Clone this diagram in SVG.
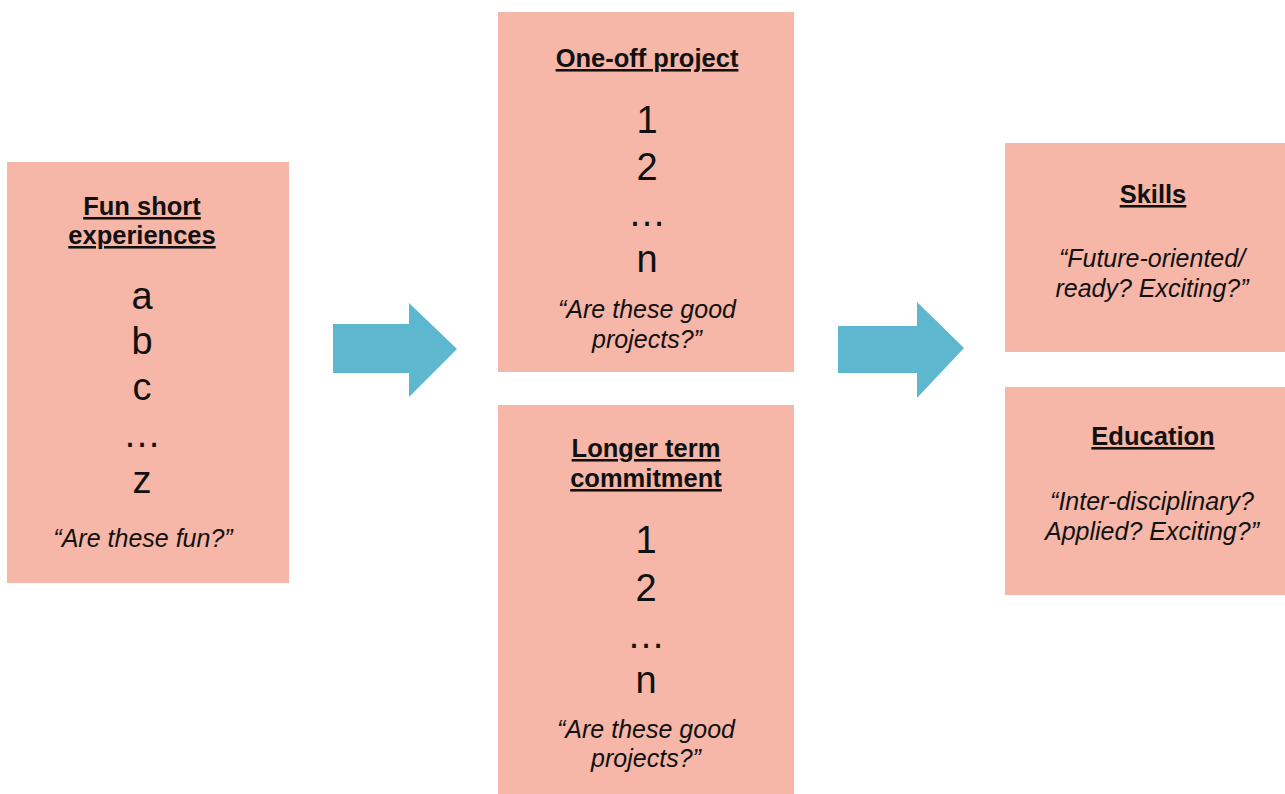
<svg xmlns="http://www.w3.org/2000/svg" width="1285" height="794" viewBox="0 0 1285 794">
<style>
.box{fill:#F6B6A8}
.arrow{fill:#5CB7CF}
text{font-family:"Liberation Sans",Arial,sans-serif;fill:#111111;text-anchor:middle}
.t{font-weight:bold;font-size:25.5px;text-decoration:underline}
.big{font-size:38px}
.q{font-style:italic;font-size:25px}
</style>
<rect width="1285" height="794" fill="#ffffff"/>
<g id="connectors">
<polygon class="arrow" points="333,324 409,324 409,303 457,349 409,397 409,373 333,373"/>
<polygon class="arrow" points="838,326 917,326 917,302 964,348 917,398 917,373 838,373"/>
</g>
<g id="fun">
<rect class="box" x="7" y="162" width="282" height="421"/>
<text class="t" x="142" y="215">Fun short</text>
<text class="t" x="142" y="244">experiences</text>
<text class="big" x="142" y="309">a</text>
<text class="big" x="142" y="354">b</text>
<text class="big" x="142" y="400">c</text>
<text class="big" x="142" y="447">…</text>
<text class="big" x="142" y="493">z</text>
<text class="q" x="143" y="547">“Are these fun?”</text>
</g>
<g id="oneoff">
<rect class="box" x="498" y="12" width="296" height="360"/>
<text class="t" x="647" y="67">One-off project</text>
<text class="big" x="647" y="133">1</text>
<text class="big" x="647" y="180">2</text>
<text class="big" x="647" y="226">…</text>
<text class="big" x="647" y="272">n</text>
<text class="q" x="647" y="318">“Are these good</text>
<text class="q" x="647" y="348">projects?”</text>
</g>
<g id="longer">
<rect class="box" x="498" y="405" width="296" height="389"/>
<text class="t" x="646" y="457">Longer term</text>
<text class="t" x="646" y="487">commitment</text>
<text class="big" x="646" y="553">1</text>
<text class="big" x="646" y="601">2</text>
<text class="big" x="646" y="648">…</text>
<text class="big" x="646" y="693">n</text>
<text class="q" x="646" y="738">“Are these good</text>
<text class="q" x="646" y="767">projects?”</text>
</g>
<g id="skills">
<rect class="box" x="1005" y="143" width="280" height="209"/>
<text class="t" x="1153" y="203">Skills</text>
<text class="q" x="1152" y="267">“Future-oriented/</text>
<text class="q" x="1152" y="297">ready? Exciting?”</text>
</g>
<g id="education">
<rect class="box" x="1005" y="387" width="280" height="208"/>
<text class="t" x="1153" y="445">Education</text>
<text class="q" x="1152" y="510">“Inter-disciplinary?</text>
<text class="q" x="1152" y="540">Applied? Exciting?”</text>
</g>
</svg>
